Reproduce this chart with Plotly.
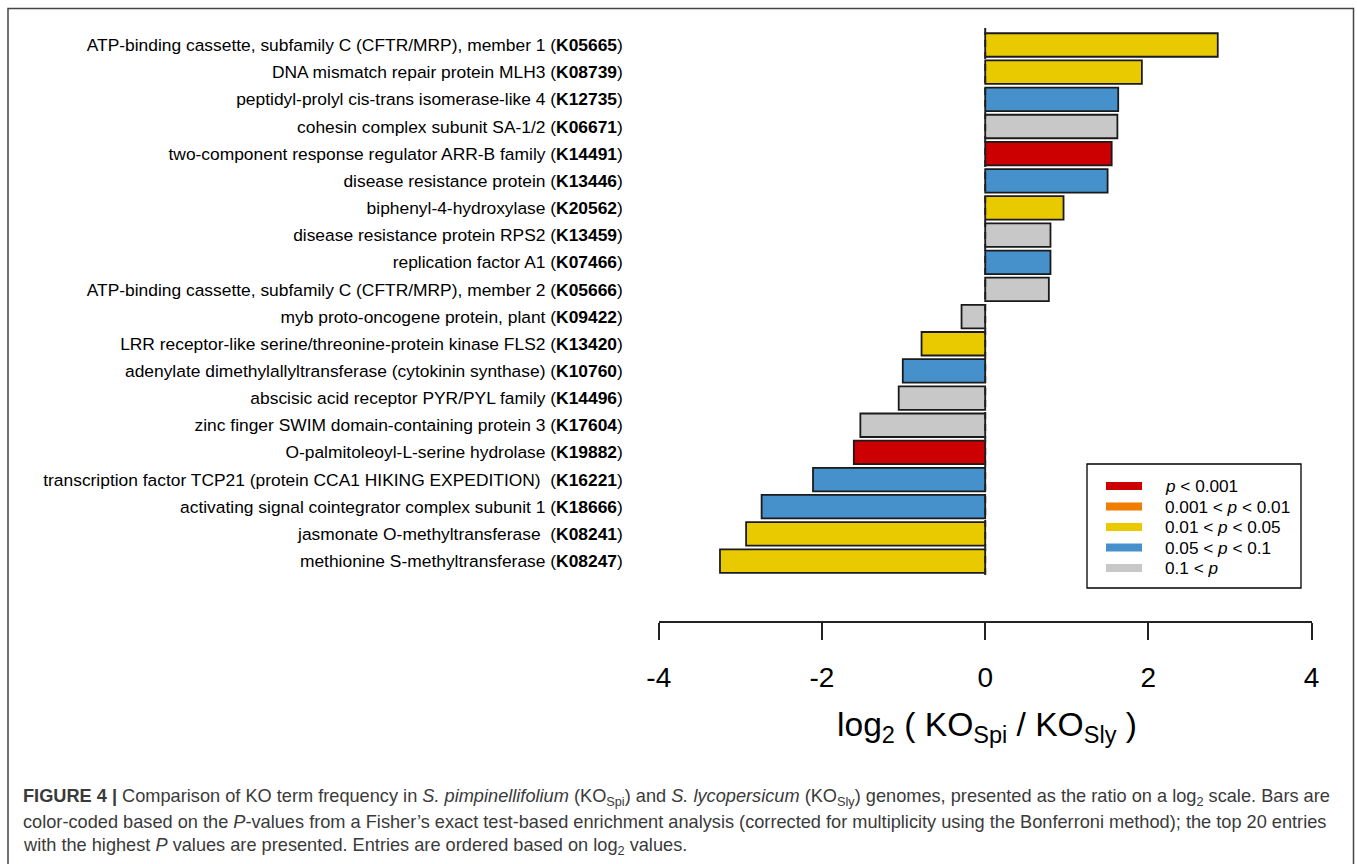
import plotly.graph_objects as go

W, H = 1357, 864

# ---------------- data ----------------
names = [
    "ATP-binding cassette, subfamily C (CFTR/MRP), member 1",
    "DNA mismatch repair protein MLH3",
    "peptidyl-prolyl cis-trans isomerase-like 4",
    "cohesin complex subunit SA-1/2",
    "two-component response regulator ARR-B family",
    "disease resistance protein",
    "biphenyl-4-hydroxylase",
    "disease resistance protein RPS2",
    "replication factor A1",
    "ATP-binding cassette, subfamily C (CFTR/MRP), member 2",
    "myb proto-oncogene protein, plant",
    "LRR receptor-like serine/threonine-protein kinase FLS2",
    "adenylate dimethylallyltransferase (cytokinin synthase)",
    "abscisic acid receptor PYR/PYL family",
    "zinc finger SWIM domain-containing protein 3",
    "O-palmitoleoyl-L-serine hydrolase",
    "transcription factor TCP21 (protein CCA1 HIKING EXPEDITION)\u00a0",
    "activating signal cointegrator complex subunit 1",
    "jasmonate O-methyltransferase\u00a0",
    "methionine S-methyltransferase",
]
ko_ids = [
    "K05665", "K08739", "K12735", "K06671", "K14491", "K13446", "K20562",
    "K13459", "K07466", "K05666", "K09422", "K13420", "K10760", "K14496",
    "K17604", "K19882", "K16221", "K18666", "K08241", "K08247",
]
log2_ratio = [
    2.85, 1.92, 1.63, 1.62, 1.55, 1.50, 0.96, 0.80, 0.80, 0.78,
    -0.29, -0.78, -1.01, -1.06, -1.53, -1.61, -2.11, -2.74, -2.93, -3.25,
]
p_class = [
    "c", "c", "d", "e", "a", "d", "c", "e", "d", "e",
    "e", "c", "d", "e", "e", "a", "d", "d", "c", "c",
]
legend_keys = ["a", "b", "c", "d", "e"]
legend_labels = [
    "<i>p</i> < 0.001",
    "0.001 < <i>p</i> < 0.01",
    "0.01 < <i>p</i> < 0.05",
    "0.05 < <i>p</i> < 0.1",
    "0.1 < <i>p</i>",
]
x_ticks = [-4, -2, 0, 2, 4]

# ---------------- styles ----------------
colors = {"a": "#CC0000", "b": "#F07D00", "c": "#E9CA00", "d": "#4691CB", "e": "#C8C8C8"}
FONT = "Liberation Sans, Arial, sans-serif"


def px_x(p):
    return p / W


def px_y(p):
    return 1 - p / H


labels = [f"{n} (<b>{k}</b>)" for n, k in zip(names, ko_ids)]

fig = go.Figure()
fig.add_trace(go.Bar(
    x=log2_ratio,
    y=labels,
    orientation="h",
    marker=dict(color=[colors[c] for c in p_class],
                line=dict(color="#1a1a1a", width=1.8)),
    showlegend=False,
    hoverinfo="x+y",
))

# plot area geometry (pixels)
x_left, x_right = 658.8, 1311.6
y_top, y_bot = 28, 621
row0, step = 45.0, 27.16
r_top = (y_top - row0) / step
r_bot = (y_bot - row0) / step

fig.update_layout(
    width=W, height=H,
    margin=dict(l=0, r=0, t=0, b=0, autoexpand=False),
    paper_bgcolor="white", plot_bgcolor="white",
    font=dict(family=FONT, color="black"),
    bargap=0.135,
    xaxis=dict(
        domain=[px_x(x_left), px_x(x_right)],
        range=[-4, 4],
        tickvals=x_ticks,
        ticktext=[str(v) for v in x_ticks],
        ticks="outside", ticklen=17, tickwidth=1.5, tickcolor="#222",
        showline=True, linewidth=1.5, linecolor="#222",
        showgrid=False, zeroline=False, automargin=False,
        tickfont=dict(size=28, family=FONT, color="black"),
        ticklabelstandoff=14,
    ),
    yaxis=dict(
        domain=[px_y(y_bot), px_y(y_top)],
        categoryorder="array", categoryarray=labels,
        range=[r_bot, r_top],
        showgrid=False, zeroline=False, showline=False, automargin=False,
        ticks="",
        tickfont=dict(size=17.4, family=FONT, color="black"),
        ticklabelstandoff=35,
    ),
)

shapes = []
# dashed zero line
shapes.append(dict(type="line", xref="x", yref="paper", x0=0, x1=0,
                   y0=px_y(575), y1=px_y(28),
                   line=dict(color="#222", width=2, dash="7px,5px")))
# outer frame
shapes.append(dict(type="rect", xref="paper", yref="paper",
                   x0=px_x(8), x1=px_x(1353.5), y0=-0.05, y1=px_y(8.5),
                   line=dict(color="#444", width=1.5), fillcolor="rgba(0,0,0,0)"))
# legend box
shapes.append(dict(type="rect", xref="paper", yref="paper",
                   x0=px_x(1087), x1=px_x(1301), y0=px_y(588), y1=px_y(464),
                   line=dict(color="black", width=1.3), fillcolor="white"))

annotations = []
leg_y = [486, 506.5, 527, 547.5, 568]
for k, lab, yy in zip(legend_keys, legend_labels, leg_y):
    shapes.append(dict(type="rect", xref="paper", yref="paper",
                       x0=px_x(1106), x1=px_x(1142),
                       y0=px_y(yy + 4), y1=px_y(yy - 4),
                       line=dict(width=0), fillcolor=colors[k]))
    annotations.append(dict(xref="paper", yref="paper", x=px_x(1163), y=px_y(yy),
                            text=lab, showarrow=False, xanchor="left", yanchor="middle",
                            font=dict(size=17.2, family=FONT, color="black")))

# axis title
annotations.append(dict(xref="paper", yref="paper", x=px_x(987), y=px_y(727),
                        text="log<sub>2</sub> ( KO<sub>Spi</sub> / KO<sub>Sly</sub> )",
                        showarrow=False, xanchor="center", yanchor="middle",
                        font=dict(size=33.6, family=FONT, color="black")))

# caption
cap_lines = [
    "<b>FIGURE 4 |</b> Comparison of KO term frequency in <i>S. pimpinellifolium</i> (KO<sub>Spi</sub>) "
    "and <i>S. lycopersicum</i> (KO<sub>Sly</sub>) genomes, presented as the ratio on a log<sub>2</sub> scale. Bars are",
    "color-coded based on the <i>P</i>-values from a Fisher\u2019s exact test-based enrichment analysis "
    "(corrected for multiplicity using the Bonferroni method); the top 20 entries",
    "with the highest <i>P</i> values are presented. Entries are ordered based on log<sub>2</sub> values.",
]
cap_y = [797, 822, 846]
for t, yy in zip(cap_lines, cap_y):
    annotations.append(dict(xref="paper", yref="paper", x=px_x(21), y=px_y(yy),
                            text=t, showarrow=False, xanchor="left", yanchor="middle",
                            font=dict(size=18.2, family=FONT, color="#3a3a3a")))

fig.update_layout(shapes=shapes, annotations=annotations)
fig.write_html("out.html", config={"displayModeBar": False},
               post_script="document.body.style.margin='0';")
